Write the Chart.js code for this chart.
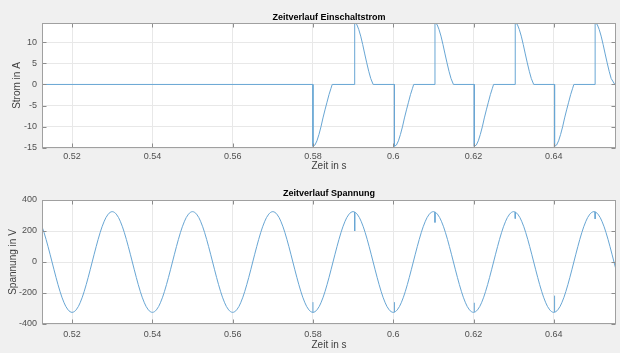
<!DOCTYPE html>
<html><head><meta charset="utf-8">
<script src="https://cdn.jsdelivr.net/npm/chart.js@4.4.1/dist/chart.umd.min.js"></script>
<style>
html,body{margin:0;padding:0;background:#f0f0f0;width:620px;height:353px;overflow:hidden}
#c1{position:absolute;left:0;top:0;width:620px;height:176px}
#c2{position:absolute;left:0;top:176px;width:620px;height:177px}
</style></head><body>
<canvas id="c1" width="620" height="176"></canvas>
<canvas id="c2" width="620" height="177"></canvas>
<script>
const xTicks = [0.52, 0.54, 0.56, 0.58, 0.6, 0.62, 0.64];
const currentTicks = [-15, -10, -5, 0, 5, 10];
const voltageTicks = [-400, -200, 0, 200, 400];
const xRange = [0.5125, 0.6555];
const currentRange = [-15, 14.5];
const voltageRange = [-400, 400];

const voltTime = [
0.512,0.513,0.514,0.515,0.516,0.517,0.518,0.519,
0.520,0.521,0.522,0.523,0.524,0.525,0.526,0.527,0.528,0.529,
0.530,0.531,0.532,0.533,0.534,0.535,0.536,0.537,0.538,0.539,
0.540,0.541,0.542,0.543,0.544,0.545,0.546,0.547,0.548,0.549,
0.550,0.551,0.552,0.553,0.554,0.555,0.556,0.557,0.558,0.559,
0.560,0.561,0.562,0.563,0.564,0.565,0.566,0.567,0.568,0.569,
0.570,0.571,0.572,0.573,0.574,0.575,0.576,0.577,0.578,0.579,
0.580,0.581,0.582,0.583,0.584,0.585,0.586,0.587,0.588,0.589,
0.590,0.591,0.592,0.593,0.594,0.595,0.596,0.597,0.598,0.599,
0.600,0.601,0.602,0.603,0.604,0.605,0.606,0.607,0.608,0.609,
0.610,0.611,0.612,0.613,0.614,0.615,0.616,0.617,0.618,0.619,
0.620,0.621,0.622,0.623,0.624,0.625,0.626,0.627,0.628,0.629,
0.630,0.631,0.632,0.633,0.634,0.635,0.636,0.637,0.638,0.639,
0.640,0.641,0.642,0.643,0.644,0.645,0.646,0.647,0.648,0.649,
0.650,0.651,0.652,0.653,0.654,0.655,0.656];
const voltValue = [
263,191,100,0,-100,-191,-263,-309,
-325,-309,-263,-191,-100,0,100,191,263,309,
325,309,263,191,100,0,-100,-191,-263,-309,
-325,-309,-263,-191,-100,0,100,191,263,309,
325,309,263,191,100,0,-100,-191,-263,-309,
-325,-309,-263,-191,-100,0,100,191,263,309,
325,309,263,191,100,0,-100,-191,-263,-309,
-325,-309,-263,-191,-100,0,100,191,263,309,
325,309,263,191,100,0,-100,-191,-263,-309,
-325,-309,-263,-191,-100,0,100,191,263,309,
325,309,263,191,100,0,-100,-191,-263,-309,
-325,-309,-263,-191,-100,0,100,191,263,309,
325,309,263,191,100,0,-100,-191,-263,-309,
-325,-309,-263,-191,-100,0,100,191,263,309,
325,309,263,191,100,0,-100];

const spikeTime = [0.5800, 0.5904, 0.6003, 0.6104, 0.6202, 0.6304, 0.6402, 0.6503];
const spikeBase = [-325, 322, -324, 322, -323, 322, -323, 323];
const spikeTip  = [-259, 200, -259, 255, -263, 280, -217, 278];

const currentTime = [
0.5120,0.5800,0.5800,0.5805,0.5810,0.5815,0.5820,0.5825,0.5830,0.5835,0.5840,0.5845,0.5848,
0.5904,0.5904,0.5909,0.5914,0.5919,0.5924,0.5929,0.5934,0.5939,0.5944,0.5950,
0.6003,0.6003,0.6008,0.6013,0.6018,0.6023,0.6028,0.6033,0.6038,0.6043,0.6048,0.6051,
0.6104,0.6104,0.6109,0.6114,0.6119,0.6124,0.6129,0.6134,0.6139,0.6144,0.6150,
0.6202,0.6202,0.6207,0.6212,0.6217,0.6222,0.6227,0.6232,0.6237,0.6242,0.6247,0.6250,
0.6304,0.6304,0.6309,0.6314,0.6319,0.6324,0.6329,0.6334,0.6339,0.6344,0.6350,
0.6402,0.6402,0.6407,0.6412,0.6417,0.6422,0.6427,0.6432,0.6437,0.6442,0.6447,0.6450,
0.6503,0.6503,0.6508,0.6513,0.6518,0.6523,0.6528,0.6533,0.6538,0.6543,0.6552,0.6560];
const currentValue = [
0,0,-14.6,-14.3,-13.3,-11.8,-10.0,-7.9,-6.0,-4.2,-2.4,-0.9,0,
0,14.5,14.2,13.0,11.4,9.4,7.2,5.1,3.1,1.4,0,
0,-14.6,-14.3,-13.3,-11.8,-10.0,-7.9,-6.0,-4.2,-2.4,-0.9,0,
0,14.5,14.2,13.0,11.4,9.4,7.2,5.1,3.1,1.4,0,
0,-14.6,-14.3,-13.3,-11.8,-10.0,-7.9,-6.0,-4.2,-2.4,-0.9,0,
0,14.5,14.2,13.0,11.4,9.4,7.2,5.1,3.1,1.4,0,
0,-14.6,-14.3,-13.3,-11.8,-10.0,-7.9,-6.0,-4.2,-2.4,-0.9,0,
0,14.5,14.2,13.0,11.4,9.4,7.2,5.1,3.1,1.4,0,0];

const FONT = 'Liberation Sans, Arial, sans-serif';
const LINE = '#68a6d4';

const frame = {
  id: 'frame',
  beforeDraw(chart) {
    const {ctx, chartArea: a} = chart;
    ctx.save();
    ctx.fillStyle = '#ffffff';
    ctx.fillRect(a.left, a.top, a.right - a.left, a.bottom - a.top);
    ctx.restore();
  },
  afterDraw(chart) {
    const {ctx, chartArea: a, scales} = chart;
    const L = Math.round(a.left) + 0.5, R = Math.round(a.right) - 0.5;
    const T = Math.round(a.top) + 0.5, B = Math.round(a.bottom) - 0.5;
    ctx.save();
    ctx.strokeStyle = '#8c8c8c';
    ctx.lineWidth = 1;
    ctx.beginPath();
    scales.x.ticks.forEach(t => {
      const p = Math.round(scales.x.getPixelForValue(t.value)) + 0.5;
      ctx.moveTo(p, B); ctx.lineTo(p, B - 4);
      ctx.moveTo(p, T); ctx.lineTo(p, T + 4);
    });
    scales.y.ticks.forEach(t => {
      const p = Math.round(scales.y.getPixelForValue(t.value)) + 0.5;
      ctx.moveTo(L, p); ctx.lineTo(L + 4, p);
      ctx.moveTo(R, p); ctx.lineTo(R - 4, p);
    });
    ctx.stroke();
    ctx.strokeStyle = '#a0a0a0';
    ctx.strokeRect(L, T, R - L, B - T);
    ctx.restore();
  }
};

function makeChart(id, cfg) {
  return new Chart(document.getElementById(id), {
    type: 'line',
    data: { datasets: cfg.datasets },
    options: {
      responsive: false, animation: false, devicePixelRatio: 1,
      layout: { padding: { left: 0, right: 4, top: 0, bottom: 0 } },
      elements: { point: { radius: 0 } },
      plugins: {
        legend: { display: false }, tooltip: { enabled: false },
        title: { display: true, text: cfg.title, fullSize: false, color: '#000',
          font: { family: FONT, size: 9, weight: 'bold' }, padding: cfg.titlePad }
      },
      scales: {
        x: {
          type: 'linear', min: xRange[0], max: xRange[1],
          afterBuildTicks: s => { s.ticks = xTicks.map(v => ({ value: v })); },
          afterFit: s => { s.height = cfg.xHeight; },
          grid: { color: '#e8e8e8', drawTicks: false },
          border: { display: false },
          ticks: { font: { family: FONT, size: 9 }, color: '#505050', padding: cfg.xTickPad,
            maxRotation: 0, autoSkip: false, callback: v => String(v) },
          title: { display: true, text: 'Zeit in s', color: '#404040',
            font: { family: FONT, size: 10 }, padding: { top: 0, bottom: cfg.xTitlePad } }
        },
        y: {
          type: 'linear', min: cfg.yRange[0], max: cfg.yRange[1],
          afterBuildTicks: s => { s.ticks = cfg.yTicks.map(v => ({ value: v })); },
          afterFit: s => { s.width = 42; },
          grid: { color: '#e8e8e8', drawTicks: false },
          border: { display: false },
          ticks: { font: { family: FONT, size: 9 }, color: '#505050', padding: 5,
            autoSkip: false, callback: v => String(v) },
          title: { display: true, text: cfg.yTitle, color: '#404040',
            font: { family: FONT, size: 10 }, padding: { top: cfg.yTitlePad, bottom: 0 } }
        }
      }
    },
    plugins: [frame]
  });
}

makeChart('c1', {
  title: 'Zeitverlauf Einschaltstrom',
  titlePad: { top: 12, bottom: 0.2 },
  xHeight: 28, xTickPad: 3, xTitlePad: 4,
  yRange: currentRange, yTicks: currentTicks, yTitle: 'Strom in A', yTitlePad: 11.5,
  datasets: [{
    data: currentTime.map((t, i) => ({ x: t, y: currentValue[i] })),
    borderColor: LINE, borderWidth: 1, tension: 0, fill: false
  }]
});

makeChart('c2', {
  title: 'Zeitverlauf Spannung',
  titlePad: { top: 12.6, bottom: 0.6 },
  xHeight: 29, xTickPad: 5, xTitlePad: 1.5,
  yRange: voltageRange, yTicks: voltageTicks, yTitle: 'Spannung in V', yTitlePad: 7.5,
  datasets: [{
    data: voltTime.map((t, i) => ({ x: t, y: voltValue[i] })),
    borderColor: LINE, borderWidth: 1, tension: 0.35, fill: false
  }, {
    data: spikeTime.flatMap((t, i) => [{ x: t, y: spikeBase[i] }, { x: t, y: spikeTip[i] }, { x: t, y: null }]),
    borderColor: LINE, borderWidth: 1, tension: 0, fill: false, spanGaps: false
  }]
});
</script>
</body></html>
